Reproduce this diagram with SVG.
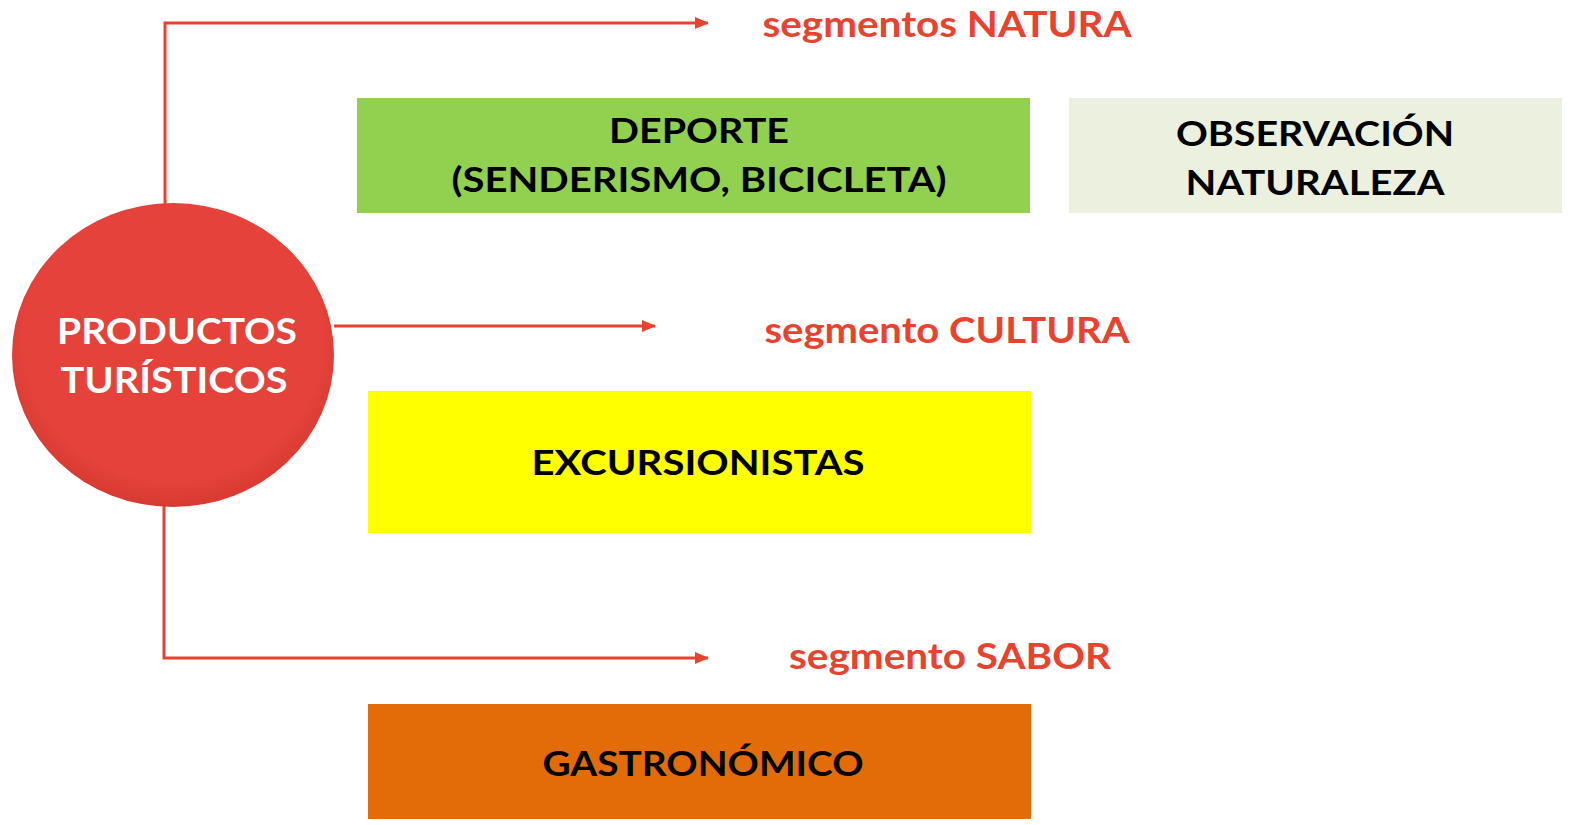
<svg xmlns="http://www.w3.org/2000/svg" width="1579" height="825" viewBox="0 0 1579 825">
<defs>
<style>
.t{font-family:Lato,"Open Sans","Liberation Sans",sans-serif;font-weight:bold;text-anchor:middle}
.blk{fill:#000;font-size:35px}
.wht{fill:#fff;font-size:37px}
.red{fill:#E8432F;font-size:36px}
.ln{fill:none;stroke:#E8432F;stroke-width:3}
</style>
<marker id="ah" viewBox="0 0 14 12" refX="13" refY="6" markerWidth="14" markerHeight="12" markerUnits="userSpaceOnUse" orient="auto">
<path d="M0,0 L14,6 L0,12 Z" fill="#E8432F"/>
</marker>
<radialGradient id="cg" cx="50%" cy="45%" r="55%">
<stop offset="0" stop-color="#E5433A"/>
<stop offset="0.85" stop-color="#E4423A"/>
<stop offset="1" stop-color="#D73A30"/>
</radialGradient>
</defs>
<rect width="1579" height="825" fill="#fff"/>
<g id="connectors">
<path class="ln" d="M165,204 V23 H708" marker-end="url(#ah)"/>
<path class="ln" d="M334,326 H655" marker-end="url(#ah)"/>
<path class="ln" d="M164,506 V658 H708" marker-end="url(#ah)"/>
</g>
<g id="productos">
<ellipse cx="173" cy="355" rx="161" ry="152" fill="url(#cg)"/>
<text class="t wht" x="177" y="344" textLength="240" lengthAdjust="spacingAndGlyphs">PRODUCTOS</text>
<text class="t wht" x="174" y="393" textLength="227" lengthAdjust="spacingAndGlyphs">TURÍSTICOS</text>
</g>
<g id="seg-natura">
<text class="t red" x="947" y="37" textLength="369" lengthAdjust="spacingAndGlyphs">segmentos NATURA</text>
</g>
<g id="deporte">
<rect x="357" y="98" width="673" height="115" fill="#92D050"/>
<text class="t blk" x="699" y="143" textLength="180" lengthAdjust="spacingAndGlyphs">DEPORTE</text>
<text class="t blk" x="699" y="192" textLength="495" lengthAdjust="spacingAndGlyphs">(SENDERISMO, BICICLETA)</text>
</g>
<g id="observacion">
<rect x="1069" y="98" width="493" height="115" fill="#EBF1DE"/>
<text class="t blk" x="1315" y="146" textLength="278" lengthAdjust="spacingAndGlyphs">OBSERVACIÓN</text>
<text class="t blk" x="1315" y="195" textLength="259" lengthAdjust="spacingAndGlyphs">NATURALEZA</text>
</g>
<g id="seg-cultura">
<text class="t red" x="947" y="343" textLength="365" lengthAdjust="spacingAndGlyphs">segmento CULTURA</text>
</g>
<g id="excursionistas">
<rect x="368" y="391" width="663" height="142" fill="#FFFF00"/>
<text class="t blk" x="698" y="475" textLength="333" lengthAdjust="spacingAndGlyphs">EXCURSIONISTAS</text>
</g>
<g id="seg-sabor">
<text class="t red" x="950" y="669" textLength="322" lengthAdjust="spacingAndGlyphs">segmento SABOR</text>
</g>
<g id="gastronomico">
<rect x="368" y="704" width="663" height="115" fill="#E36C09"/>
<text class="t blk" x="703" y="776" textLength="321" lengthAdjust="spacingAndGlyphs">GASTRONÓMICO</text>
</g>
</svg>
